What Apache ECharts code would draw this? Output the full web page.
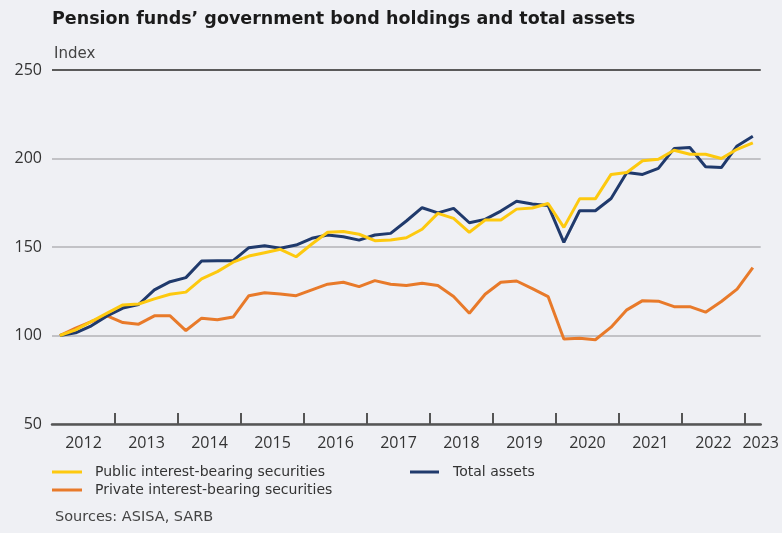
<!DOCTYPE html>
<html>
<head>
<meta charset="utf-8">
<script src="https://cdn.jsdelivr.net/npm/echarts@6/dist/echarts.min.js"></script>
<style>
  html, body { margin: 0; padding: 0; background: #ffffff; }
  #chart { width: 782px; height: 533px; }
</style>
</head>
<body>
<div id="chart"></div>
<script>
// Quarterly index values, 2012 Q1 = 100 (2012 Q1 to 2023 Q1)
const quarters = [];
for (let y = 2012; y <= 2023; y++) {
  for (let q = 1; q <= 4; q++) {
    if (y === 2023 && q > 1) break;
    quarters.push(y + ' Q' + q);
  }
}

const publicSecurities = [
  100, 103.2, 107.9, 112.6, 117.3, 117.8, 120.7, 123.3, 124.5, 132,
  136.1, 141.4, 144.9, 146.8, 148.7, 144.5, 151.7, 158.3, 158.7, 157.2,
  153.6, 153.9, 155.2, 160, 169, 166.2, 158.3, 165.2, 165.2, 171.4,
  172, 174.6, 161.1, 177.2, 177.2, 191, 192.1, 198.7, 199.6, 204.7,
  202.4, 202.4, 200, 205.2, 208.8
];

const privateSecurities = [
  100, 104.2, 107.9, 111.1, 107.3, 106.4, 111.1, 111.1, 102.8, 109.8,
  108.9, 110.4, 122.5, 124.2, 123.5, 122.5, 125.8, 129, 130.1, 127.6,
  131, 129, 128.2, 129.5, 128.2, 122, 112.6, 123.3, 130.1, 130.8,
  126.5, 122, 98, 98.5, 97.6, 104.7, 114.5, 119.7, 119.4, 116.3,
  116.3, 113.2, 119.2, 126.2, 138.3
];

const totalAssets = [
  100, 101.5, 105.5, 111, 115.5, 117.5, 125.8, 130.4, 132.7, 142.1,
  142.3, 142.3, 149.6, 150.7, 149.3, 151.1, 154.9, 156.8, 155.8, 153.9,
  156.8, 157.7, 164.7, 172.2, 169.3, 171.8, 163.7, 165.6, 170.3, 175.9,
  174.3, 173.5, 152.6, 170.5, 170.5, 177.4, 192.1, 191, 194.4, 205.6,
  206.2, 195.3, 194.9, 207.1, 212.6
];

const yearLabels = ['2012', '2013', '2014', '2015', '2016', '2017',
                    '2018', '2019', '2020', '2021', '2022', '2023'];

const NAMES = {
  pub: 'Public interest-bearing securities',
  priv: 'Private interest-bearing securities',
  total: 'Total assets'
};
const COLORS = { pub: '#fdc90f', priv: '#e87a2a', total: '#203a6c' };

const TEXT_FONT = '"DejaVu Sans", sans-serif';
const AXIS_FONT = '"Open Sans", sans-serif';
const nQ = quarters.length;

// Year boundaries (start of each year after the first) and year-label positions
const yearTicks = [];
for (let i = 4; i < nQ; i += 4) yearTicks.push(i);
const yearLabelPos = yearLabels.map((y, k) => Math.min(4 * k + 2, nQ));

const chart = echarts.init(document.getElementById('chart'), null, { renderer: 'canvas' });

const lineSeries = (key, data, z) => ({
  name: NAMES[key],
  type: 'line',
  data: data,
  xAxisIndex: 0,
  symbol: 'none',
  smooth: false,
  z: z,
  lineStyle: { color: COLORS[key], width: 3 },
  itemStyle: { color: COLORS[key] },
  emphasis: { disabled: true }
});

chart.setOption({
  backgroundColor: '#eff0f4',
  animation: false,
  textStyle: { fontFamily: TEXT_FONT },
  title: [
    {
      text: 'Pension funds\u2019 government bond holdings and total assets',
      left: 52, top: 10, padding: 0,
      textStyle: { fontSize: 17.5, fontWeight: 'bold', color: '#1b1b1b', fontFamily: TEXT_FONT }
    },
    {
      text: 'Index',
      left: 54, top: 47, padding: 0,
      textStyle: { fontSize: 15, fontWeight: 'normal', color: '#444', fontFamily: TEXT_FONT }
    },
    {
      text: 'Sources: ASISA, SARB',
      left: 55, top: 510, padding: 0,
      textStyle: { fontSize: 14.5, fontWeight: 'normal', color: '#444', fontFamily: TEXT_FONT }
    }
  ],
  legend: [
    {
      data: [NAMES.pub, NAMES.priv],
      left: 52, top: 463, padding: 0,
      orient: 'vertical',
      icon: 'rect',
      itemWidth: 30, itemHeight: 3,
      itemGap: 0,
      selectedMode: false,
      textStyle: { fontSize: 14, color: '#333', lineHeight: 18, padding: [0, 0, 0, 8], fontFamily: TEXT_FONT }
    },
    {
      data: [NAMES.total],
      left: 410, top: 463, padding: 0,
      orient: 'vertical',
      icon: 'rect',
      itemWidth: 29, itemHeight: 3,
      selectedMode: false,
      textStyle: { fontSize: 14, color: '#333', lineHeight: 18, padding: [0, 0, 0, 9], fontFamily: TEXT_FONT }
    }
  ],
  grid: { left: 52, right: 18, top: 70, bottom: 109, containLabel: false },
  xAxis: [
    {
      type: 'category',
      data: quarters,
      boundaryGap: true,
      axisLine: { show: true, lineStyle: { color: '#555', width: 2.5 } },
      axisTick: { show: false },
      axisLabel: { show: false },
      splitLine: { show: false }
    },
    {
      type: 'value',
      position: 'bottom',
      min: 0, max: nQ,
      axisLine: { show: false },
      axisTick: {
        show: true, inside: true, length: 11,
        customValues: yearTicks,
        lineStyle: { color: '#555', width: 2 }
      },
      axisLabel: {
        show: true, margin: 11,
        customValues: yearLabelPos,
        formatter: (v) => yearLabels[yearLabelPos.indexOf(v)],
        fontSize: 16, color: '#333', fontFamily: AXIS_FONT
      },
      splitLine: { show: false }
    }
  ],
  yAxis: {
    type: 'value',
    min: 50, max: 250, interval: 50,
    axisLine: { show: false },
    axisTick: { show: false },
    axisLabel: { fontSize: 16, color: '#333', margin: 10, fontFamily: AXIS_FONT },
    splitLine: { show: true, lineStyle: { color: '#b3b3b7', width: 1.5 } }
  },
  series: [
    Object.assign(lineSeries('priv', privateSecurities, 2), {
      markLine: {
        silent: true,
        symbol: 'none',
        label: { show: false },
        lineStyle: { color: '#5a5a5a', width: 2, type: 'solid' },
        data: [{ yAxis: 250 }]
      }
    }),
    lineSeries('total', totalAssets, 3),
    lineSeries('pub', publicSecurities, 4)
  ]
});
</script>
</body>
</html>
